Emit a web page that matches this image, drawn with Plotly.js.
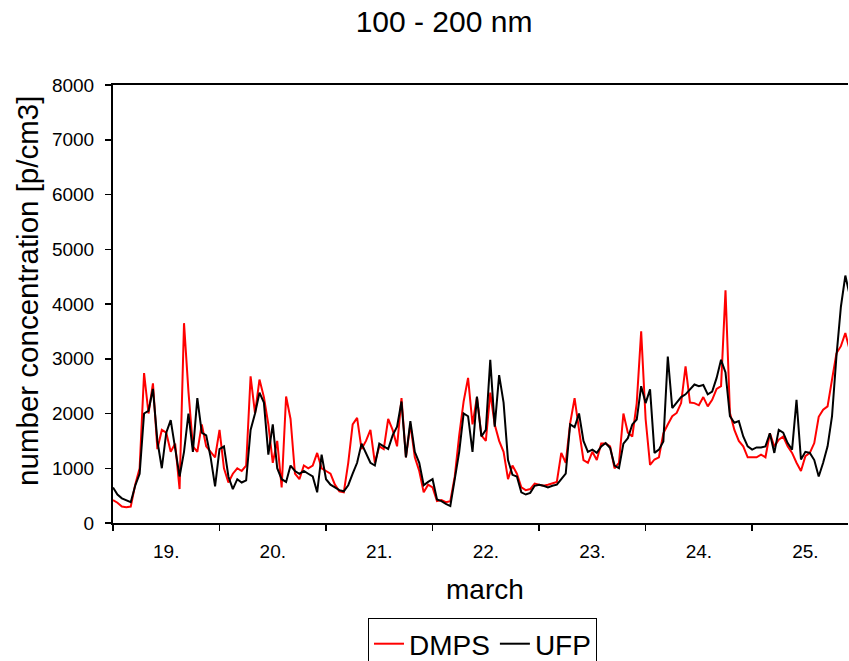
<!DOCTYPE html>
<html>
<head>
<meta charset="utf-8">
<script src="https://cdn.plot.ly/plotly-3.0.1.min.js"></script>
<style>
  html, body { margin: 0; padding: 0; background: #ffffff; }
  #chart { width: 849px; height: 661px; }
</style>
</head>
<body>
<div id="chart"></div>
<script>
// Hourly number concentration, 100 - 200 nm size class [p/cm3]
// First sample: 19 March 00:00, one value per hour.
const startDay = '2007-03-19';
const stepHours = 1;

// DMPS (red), one line per day, 19. ... 25.
const dmps = [
  420, 370, 300, 290, 300, 700, 1000, 2740, 2000, 2550, 1350, 1700, 1650, 1300, 1450, 620, 3650, 2400, 1400, 1300, 1800, 1400, 1300, 1200,
  1700, 1000, 740, 900, 1000, 950, 1050, 2680, 2000, 2620, 2300, 1800, 1100, 1500, 650, 2310, 1900, 900, 800, 1050, 1000, 1050, 1280, 1000,
  950, 900, 700, 580, 560, 1100, 1800, 1920, 1350, 1500, 1700, 1100, 1400, 1350, 1900, 1700, 1400, 2280, 1200, 1800, 1200, 950, 560, 700,
  650, 400, 420, 380, 400, 850, 1600, 2220, 2650, 1800, 2300, 1600, 1500, 2380, 1800, 1500, 1300, 800, 1050, 900, 650, 600, 620, 720,
  700, 680, 700, 720, 750, 1280, 1100, 1820, 2280, 1700, 1150, 1100, 1300, 1150, 1450, 1450, 1400, 1000, 1100, 2000, 1650, 1580, 2190, 3500,
  1900, 1060, 1160, 1200, 1640, 1800, 1950, 2010, 2190, 2860, 2200, 2190, 2150, 2300, 2130, 2250, 2450, 2500, 4250, 2010, 1700, 1500, 1400, 1200,
  1200, 1200, 1250, 1200, 1640, 1400, 1520, 1580, 1400, 1280, 1100, 950, 1220, 1280, 1460, 1940, 2070, 2130, 2620, 3100, 3230, 3470, 3150
];

// UFP (black)
const ufp = [
  650, 520, 450, 420, 380, 680, 900, 2000, 2050, 2450, 1500, 1000, 1650, 1880, 1350, 850, 1300, 2000, 1300, 2280, 1650, 1600, 1200, 670,
  1350, 1400, 850, 620, 800, 740, 780, 1700, 2000, 2380, 2200, 1250, 1800, 1000, 800, 750, 1050, 950, 900, 950, 900, 850, 560, 1250,
  800, 700, 650, 600, 580, 690, 900, 1100, 1450, 1280, 1100, 1050, 1450, 1400, 1350, 1600, 1760, 2220, 1200, 1860, 1300, 1100, 690, 750,
  800, 430, 400, 350, 310, 800, 1300, 2000, 1950, 1300, 2310, 1580, 1700, 2980, 1760, 2700, 2200, 1150, 880, 850, 560, 520, 550, 680,
  700, 680, 650, 680, 700, 800, 900, 1800, 1750, 2000, 1500, 1300, 1340, 1280, 1400, 1460, 1370, 1050, 1000, 1450, 1550, 1800, 1890, 2500,
  2190, 2440, 1280, 1340, 1490, 3040, 2100, 2200, 2300, 2350, 2450, 2530, 2500, 2520, 2350, 2400, 2650, 2980, 2750, 1950, 1830, 1860, 1580, 1400,
  1340, 1380, 1380, 1400, 1640, 1280, 1700, 1650, 1460, 1340, 2250, 1160, 1300, 1280, 1150, 850, 1100, 1400, 1950, 3050, 3950, 4520, 4150
];

const seriesNames = ['DMPS', 'UFP'];
const seriesColors = ['#ff0000', '#000000'];
const yTickVals = [0, 1000, 2000, 3000, 4000, 5000, 6000, 7000, 8000];

// sample timestamps as date strings
function pad(n) { return (n < 10 ? '0' : '') + n; }
function timeAxis(count) {
  const t0 = Date.parse(startDay + 'T00:00:00Z');
  const out = [];
  for (let i = 0; i < count; i++) {
    const d = new Date(t0 + i * stepHours * 3600000);
    out.push(d.getUTCFullYear() + '-' + pad(d.getUTCMonth() + 1) + '-' + pad(d.getUTCDate()) +
             ' ' + pad(d.getUTCHours()) + ':' + pad(d.getUTCMinutes()));
  }
  return out;
}

const times = timeAxis(dmps.length);
const font = 'Liberation Sans, Arial, Helvetica, sans-serif';

const traces = [dmps, ufp].map((vals, k) => ({
  type: 'scatter',
  mode: 'lines',
  name: seriesNames[k],
  x: times,
  y: vals,
  line: { color: seriesColors[k], width: 2 },
  hoverinfo: 'x+y+name'
}));

const layout = {
  width: 849,
  height: 661,
  margin: { l: 113, r: 1, t: 85, b: 138, autoexpand: false },
  paper_bgcolor: '#ffffff',
  plot_bgcolor: '#ffffff',
  font: { family: font, color: '#000000' },
  showlegend: true,
  title: {
    text: '100 - 200 nm',
    font: { family: font, size: 30, color: '#000000' },
    x: 0.523, xanchor: 'center',
    y: 0.967, yanchor: 'middle'
  },
  xaxis: {
    type: 'date',
    range: ['2007-03-19 00:00', '2007-03-25 21:36'],
    tick0: '2007-03-19',
    dtick: 86400000,
    tickformat: '%d.',
    ticklabelmode: 'period',
    ticks: 'outside',
    ticklen: 6,
    tickwidth: 1.5,
    tickcolor: '#000000',
    ticklabelstandoff: 4,
    tickfont: { family: font, size: 19, color: '#000000' },
    showline: true,
    linecolor: '#000000',
    linewidth: 2,
    mirror: true,
    showgrid: false,
    zeroline: false
  },
  yaxis: {
    range: [0, 8000],
    tickvals: yTickVals,
    ticks: 'outside',
    ticklen: 6,
    tickwidth: 1.5,
    tickcolor: '#000000',
    ticklabelstandoff: 7,
    tickfont: { family: font, size: 19, color: '#000000' },
    showline: true,
    linecolor: '#000000',
    linewidth: 2,
    showgrid: false,
    zeroline: false
  },
  annotations: [
    {
      text: 'number concentration [p/cm3]',
      textangle: -90,
      xref: 'paper', yref: 'paper',
      x: -0.1156, y: 0.53,
      xanchor: 'center', yanchor: 'middle',
      showarrow: false,
      font: { family: font, size: 29.5, color: '#000000' }
    },
    {
      text: 'march',
      xref: 'paper', yref: 'paper',
      x: 0.506, y: -0.1507,
      xanchor: 'center', yanchor: 'middle',
      showarrow: false,
      font: { family: font, size: 28, color: '#000000' }
    }
  ],
  legend: {
    orientation: 'h',
    x: 0.5027, xanchor: 'center',
    y: -0.2169, yanchor: 'top',
    bgcolor: '#ffffff',
    bordercolor: '#000000',
    borderwidth: 1,
    font: { family: font, size: 28, color: '#000000' },
    traceorder: 'normal'
  }
};

Plotly.newPlot('chart', traces, layout, { displayModeBar: false, staticPlot: true });
</script>
</body>
</html>
